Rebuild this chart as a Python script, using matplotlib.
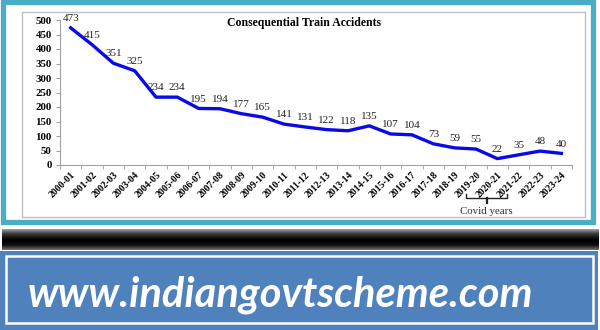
import numpy as np
import matplotlib
matplotlib.use("Agg")
import matplotlib.pyplot as plt
from matplotlib.patches import Rectangle
import matplotlib.transforms as mtransforms

years = ["2000-01", "2001-02", "2002-03", "2003-04", "2004-05", "2005-06", "2006-07",
         "2007-08", "2008-09", "2009-10", "2010-11", "2011-12", "2012-13", "2013-14",
         "2014-15", "2015-16", "2016-17", "2017-18", "2018-19", "2019-20", "2020-21",
         "2021-22", "2022-23", "2023-24"]
accidents = [473, 415, 351, 325, 234, 234, 195, 194, 177, 165, 141, 131, 122, 118,
             135, 107, 104, 73, 59, 55, 22, 35, 48, 40]
y_ticks = [0, 50, 100, 150, 200, 250, 300, 350, 400, 450, 500]
title = "Consequential Train Accidents"
covid_note = "Covid years"
site = "www.indiangovtscheme.com"

W, H = 600, 330
fig = plt.figure(figsize=(W / 100, H / 100), dpi=100)
fig.patch.set_facecolor("white")

def fr(x0, y0, x1, y1):
    # pixel box (top-left origin) -> figure fraction rect
    return (x0 / W, 1 - y1 / H, (x1 - x0) / W, (y1 - y0) / H)

def rect(x0, y0, x1, y1, **kw):
    l, b, w, h = fr(x0, y0, x1, y1)
    fig.patches.append(Rectangle((l, b), w, h, transform=fig.transFigure, **kw))

# teal outer frame
rect(2.5, 2.5, 592.5, 221.5, fill=False, edgecolor="#4bacc6", linewidth=3.8)
# grey chart frame
rect(22, 12, 585, 217, fill=False, edgecolor="#bfbfbf", linewidth=1.0)

# black gradient bar
bar_ax = fig.add_axes(fr(2, 229, 599, 250))
prof = np.concatenate([np.linspace(0.6, 0.25, 5), np.linspace(0.2, 0.0, 6),
                       np.linspace(0.0, 0.05, 5), np.linspace(0.1, 0.4, 5)])
bar_ax.imshow(prof[:, None], cmap="gray", vmin=0, vmax=1, aspect="auto",
              extent=(0, 1, 0, 1))
bar_ax.set_axis_off()

# blue banner
rect(0, 251, 598, 330, facecolor="#4f81bd", edgecolor="none")
rect(6, 256, 593, 323, fill=False, edgecolor="white", linewidth=1.8)
fig.text(28 / W, 1 - 307 / H, site, color="white", fontsize=30,
         fontfamily="Lato", fontweight="bold", fontstyle="italic",
         ha="left", va="baseline")

# main chart
ax = fig.add_axes(fr(60, 20, 572, 165))
x = np.arange(len(years))
ax.plot(x, accidents, color="#0a0ae6", linewidth=2.4, solid_joinstyle="round")
for xi, v in zip(x, accidents):
    ax.annotate(str(v), (xi, v), xytext=(0, 3.5), textcoords="offset points",
                ha="center", va="bottom", fontsize=8,
                fontfamily="Liberation Serif", color="#222222")

ax.set_xlim(-0.5, len(years) - 0.5)
ax.set_ylim(0, 500)
ax.set_yticks(y_ticks)
ax.set_yticklabels([str(t) for t in y_ticks], fontfamily="Liberation Serif",
                   fontweight="bold", fontsize=7.8)
ax.set_xticks(x)
ax.set_xticklabels(years, rotation=45, ha="right", rotation_mode="anchor",
                   fontfamily="Liberation Serif", fontweight="bold", fontsize=7)
ax.set_xticks(np.arange(len(years) + 1) - 0.5, minor=True)
ax.tick_params(axis="x", which="major", length=0, pad=4)
ax.tick_params(axis="x", which="minor", length=3, color="#a0a0a0")
ax.tick_params(axis="y", length=3, color="#a0a0a0", pad=3)
for s in ["top", "right"]:
    ax.spines[s].set_visible(False)
for s in ["left", "bottom"]:
    ax.spines[s].set_color("#a0a0a0")
    ax.spines[s].set_linewidth(0.8)

fig.text(304 / W, 1 - 23 / H, title, ha="center", va="center",
         fontfamily="Liberation Serif", fontweight="bold", fontsize=8.5)

# covid bracket
tr = mtransforms.blended_transform_factory(ax.transData, ax.transAxes)
bx0, bx1, bm = 18.55, 20.45, 19.5
ax.plot([bx0, bx0, bx1, bx1], [-0.2, -0.228, -0.228, -0.2], transform=tr,
        color="#222222", linewidth=1.0, clip_on=False)
ax.plot([bm, bm], [-0.228, -0.26], transform=tr, color="#222222",
        linewidth=1.6, clip_on=False)
ax.text(bm, -0.318, covid_note, transform=tr, ha="center", va="center",
        fontfamily="Liberation Serif", fontsize=7.8, color="#3a2a2a")

fig.savefig("out.png", dpi=100)
